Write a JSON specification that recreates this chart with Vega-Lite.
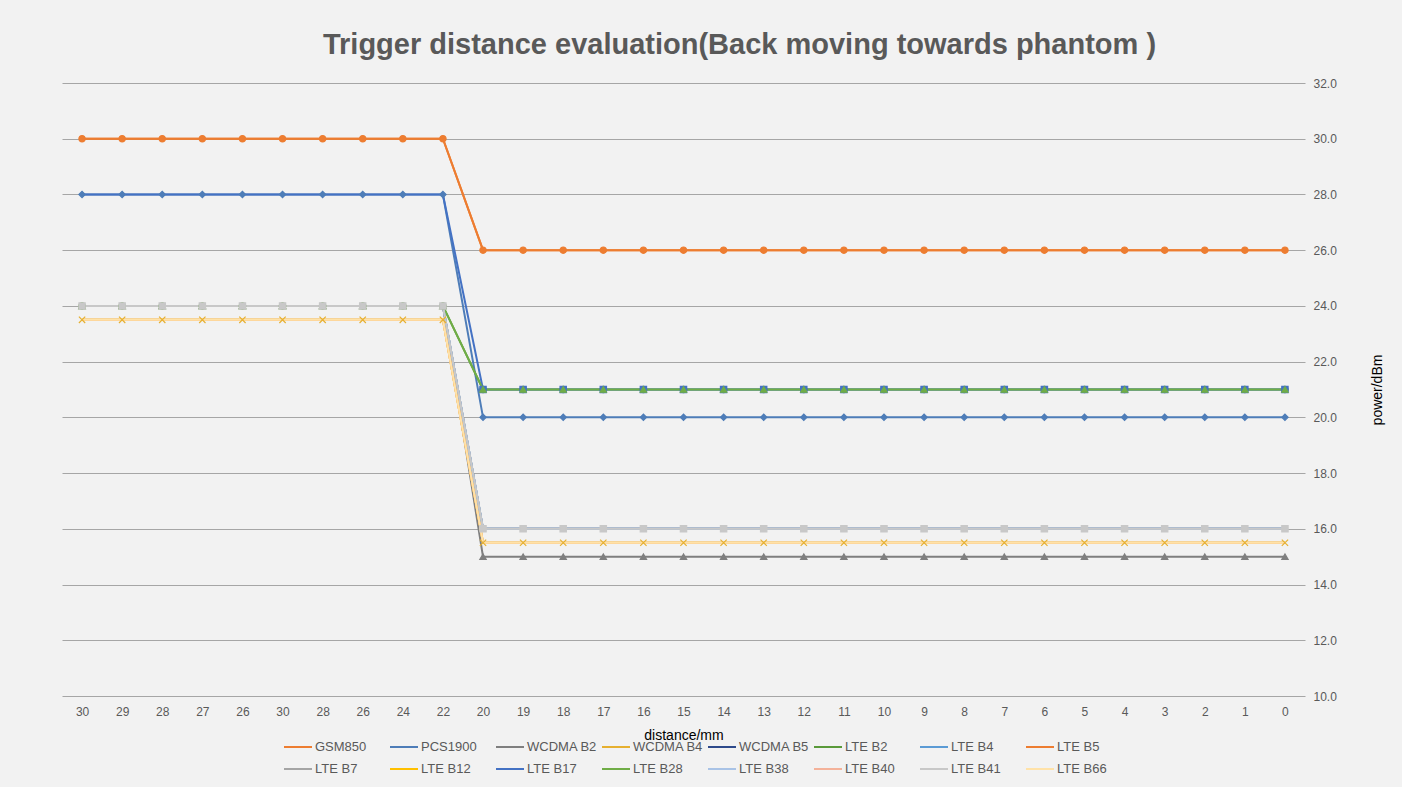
{
  "$schema": "https://vega.github.io/schema/vega-lite/v6.json",
  "width": 1243,
  "height": 613,
  "autosize": "none",
  "padding": {"left": 62, "top": 83, "right": 97, "bottom": 91},
  "background": "#f2f2f2",
  "config": {"view": {"stroke": null}, "font": "Liberation Sans"},
  "title": {
    "text": "Trigger distance evaluation(Back moving towards phantom )",
    "font": "Liberation Sans",
    "fontSize": 29,
    "fontWeight": "bold",
    "color": "#595959",
    "anchor": "middle",
    "frame": "group",
    "dx": 56,
    "offset": 17
  },
  "data": {
    "values": [
      {"s":"GSM850","x":1,"y":30},{"s":"GSM850","x":2,"y":30},{"s":"GSM850","x":3,"y":30},{"s":"GSM850","x":4,"y":30},{"s":"GSM850","x":5,"y":30},{"s":"GSM850","x":6,"y":30},{"s":"GSM850","x":7,"y":30},{"s":"GSM850","x":8,"y":30},{"s":"GSM850","x":9,"y":30},{"s":"GSM850","x":10,"y":30},
      {"s":"GSM850","x":11,"y":26},{"s":"GSM850","x":12,"y":26},{"s":"GSM850","x":13,"y":26},{"s":"GSM850","x":14,"y":26},{"s":"GSM850","x":15,"y":26},{"s":"GSM850","x":16,"y":26},{"s":"GSM850","x":17,"y":26},{"s":"GSM850","x":18,"y":26},{"s":"GSM850","x":19,"y":26},{"s":"GSM850","x":20,"y":26},{"s":"GSM850","x":21,"y":26},{"s":"GSM850","x":22,"y":26},{"s":"GSM850","x":23,"y":26},{"s":"GSM850","x":24,"y":26},{"s":"GSM850","x":25,"y":26},{"s":"GSM850","x":26,"y":26},{"s":"GSM850","x":27,"y":26},{"s":"GSM850","x":28,"y":26},{"s":"GSM850","x":29,"y":26},{"s":"GSM850","x":30,"y":26},{"s":"GSM850","x":31,"y":26},

      {"s":"PCS1900","x":1,"y":28},{"s":"PCS1900","x":2,"y":28},{"s":"PCS1900","x":3,"y":28},{"s":"PCS1900","x":4,"y":28},{"s":"PCS1900","x":5,"y":28},{"s":"PCS1900","x":6,"y":28},{"s":"PCS1900","x":7,"y":28},{"s":"PCS1900","x":8,"y":28},{"s":"PCS1900","x":9,"y":28},{"s":"PCS1900","x":10,"y":28},
      {"s":"PCS1900","x":11,"y":20},{"s":"PCS1900","x":12,"y":20},{"s":"PCS1900","x":13,"y":20},{"s":"PCS1900","x":14,"y":20},{"s":"PCS1900","x":15,"y":20},{"s":"PCS1900","x":16,"y":20},{"s":"PCS1900","x":17,"y":20},{"s":"PCS1900","x":18,"y":20},{"s":"PCS1900","x":19,"y":20},{"s":"PCS1900","x":20,"y":20},{"s":"PCS1900","x":21,"y":20},{"s":"PCS1900","x":22,"y":20},{"s":"PCS1900","x":23,"y":20},{"s":"PCS1900","x":24,"y":20},{"s":"PCS1900","x":25,"y":20},{"s":"PCS1900","x":26,"y":20},{"s":"PCS1900","x":27,"y":20},{"s":"PCS1900","x":28,"y":20},{"s":"PCS1900","x":29,"y":20},{"s":"PCS1900","x":30,"y":20},{"s":"PCS1900","x":31,"y":20},

      {"s":"WCDMA B2","x":1,"y":24},{"s":"WCDMA B2","x":2,"y":24},{"s":"WCDMA B2","x":3,"y":24},{"s":"WCDMA B2","x":4,"y":24},{"s":"WCDMA B2","x":5,"y":24},{"s":"WCDMA B2","x":6,"y":24},{"s":"WCDMA B2","x":7,"y":24},{"s":"WCDMA B2","x":8,"y":24},{"s":"WCDMA B2","x":9,"y":24},{"s":"WCDMA B2","x":10,"y":24},
      {"s":"WCDMA B2","x":11,"y":15},{"s":"WCDMA B2","x":12,"y":15},{"s":"WCDMA B2","x":13,"y":15},{"s":"WCDMA B2","x":14,"y":15},{"s":"WCDMA B2","x":15,"y":15},{"s":"WCDMA B2","x":16,"y":15},{"s":"WCDMA B2","x":17,"y":15},{"s":"WCDMA B2","x":18,"y":15},{"s":"WCDMA B2","x":19,"y":15},{"s":"WCDMA B2","x":20,"y":15},{"s":"WCDMA B2","x":21,"y":15},{"s":"WCDMA B2","x":22,"y":15},{"s":"WCDMA B2","x":23,"y":15},{"s":"WCDMA B2","x":24,"y":15},{"s":"WCDMA B2","x":25,"y":15},{"s":"WCDMA B2","x":26,"y":15},{"s":"WCDMA B2","x":27,"y":15},{"s":"WCDMA B2","x":28,"y":15},{"s":"WCDMA B2","x":29,"y":15},{"s":"WCDMA B2","x":30,"y":15},{"s":"WCDMA B2","x":31,"y":15},

      {"s":"WCDMA B4","x":1,"y":23.5},{"s":"WCDMA B4","x":2,"y":23.5},{"s":"WCDMA B4","x":3,"y":23.5},{"s":"WCDMA B4","x":4,"y":23.5},{"s":"WCDMA B4","x":5,"y":23.5},{"s":"WCDMA B4","x":6,"y":23.5},{"s":"WCDMA B4","x":7,"y":23.5},{"s":"WCDMA B4","x":8,"y":23.5},{"s":"WCDMA B4","x":9,"y":23.5},{"s":"WCDMA B4","x":10,"y":23.5},
      {"s":"WCDMA B4","x":11,"y":15.5},{"s":"WCDMA B4","x":12,"y":15.5},{"s":"WCDMA B4","x":13,"y":15.5},{"s":"WCDMA B4","x":14,"y":15.5},{"s":"WCDMA B4","x":15,"y":15.5},{"s":"WCDMA B4","x":16,"y":15.5},{"s":"WCDMA B4","x":17,"y":15.5},{"s":"WCDMA B4","x":18,"y":15.5},{"s":"WCDMA B4","x":19,"y":15.5},{"s":"WCDMA B4","x":20,"y":15.5},{"s":"WCDMA B4","x":21,"y":15.5},{"s":"WCDMA B4","x":22,"y":15.5},{"s":"WCDMA B4","x":23,"y":15.5},{"s":"WCDMA B4","x":24,"y":15.5},{"s":"WCDMA B4","x":25,"y":15.5},{"s":"WCDMA B4","x":26,"y":15.5},{"s":"WCDMA B4","x":27,"y":15.5},{"s":"WCDMA B4","x":28,"y":15.5},{"s":"WCDMA B4","x":29,"y":15.5},{"s":"WCDMA B4","x":30,"y":15.5},{"s":"WCDMA B4","x":31,"y":15.5},

      {"s":"WCDMA B5","x":1,"y":24},{"s":"WCDMA B5","x":2,"y":24},{"s":"WCDMA B5","x":3,"y":24},{"s":"WCDMA B5","x":4,"y":24},{"s":"WCDMA B5","x":5,"y":24},{"s":"WCDMA B5","x":6,"y":24},{"s":"WCDMA B5","x":7,"y":24},{"s":"WCDMA B5","x":8,"y":24},{"s":"WCDMA B5","x":9,"y":24},{"s":"WCDMA B5","x":10,"y":24},
      {"s":"WCDMA B5","x":11,"y":16},{"s":"WCDMA B5","x":12,"y":16},{"s":"WCDMA B5","x":13,"y":16},{"s":"WCDMA B5","x":14,"y":16},{"s":"WCDMA B5","x":15,"y":16},{"s":"WCDMA B5","x":16,"y":16},{"s":"WCDMA B5","x":17,"y":16},{"s":"WCDMA B5","x":18,"y":16},{"s":"WCDMA B5","x":19,"y":16},{"s":"WCDMA B5","x":20,"y":16},{"s":"WCDMA B5","x":21,"y":16},{"s":"WCDMA B5","x":22,"y":16},{"s":"WCDMA B5","x":23,"y":16},{"s":"WCDMA B5","x":24,"y":16},{"s":"WCDMA B5","x":25,"y":16},{"s":"WCDMA B5","x":26,"y":16},{"s":"WCDMA B5","x":27,"y":16},{"s":"WCDMA B5","x":28,"y":16},{"s":"WCDMA B5","x":29,"y":16},{"s":"WCDMA B5","x":30,"y":16},{"s":"WCDMA B5","x":31,"y":16},

      {"s":"LTE B2","x":1,"y":24},{"s":"LTE B2","x":2,"y":24},{"s":"LTE B2","x":3,"y":24},{"s":"LTE B2","x":4,"y":24},{"s":"LTE B2","x":5,"y":24},{"s":"LTE B2","x":6,"y":24},{"s":"LTE B2","x":7,"y":24},{"s":"LTE B2","x":8,"y":24},{"s":"LTE B2","x":9,"y":24},{"s":"LTE B2","x":10,"y":24},
      {"s":"LTE B2","x":11,"y":21},{"s":"LTE B2","x":12,"y":21},{"s":"LTE B2","x":13,"y":21},{"s":"LTE B2","x":14,"y":21},{"s":"LTE B2","x":15,"y":21},{"s":"LTE B2","x":16,"y":21},{"s":"LTE B2","x":17,"y":21},{"s":"LTE B2","x":18,"y":21},{"s":"LTE B2","x":19,"y":21},{"s":"LTE B2","x":20,"y":21},{"s":"LTE B2","x":21,"y":21},{"s":"LTE B2","x":22,"y":21},{"s":"LTE B2","x":23,"y":21},{"s":"LTE B2","x":24,"y":21},{"s":"LTE B2","x":25,"y":21},{"s":"LTE B2","x":26,"y":21},{"s":"LTE B2","x":27,"y":21},{"s":"LTE B2","x":28,"y":21},{"s":"LTE B2","x":29,"y":21},{"s":"LTE B2","x":30,"y":21},{"s":"LTE B2","x":31,"y":21},

      {"s":"LTE B4","x":1,"y":24},{"s":"LTE B4","x":2,"y":24},{"s":"LTE B4","x":3,"y":24},{"s":"LTE B4","x":4,"y":24},{"s":"LTE B4","x":5,"y":24},{"s":"LTE B4","x":6,"y":24},{"s":"LTE B4","x":7,"y":24},{"s":"LTE B4","x":8,"y":24},{"s":"LTE B4","x":9,"y":24},{"s":"LTE B4","x":10,"y":24},
      {"s":"LTE B4","x":11,"y":16},{"s":"LTE B4","x":12,"y":16},{"s":"LTE B4","x":13,"y":16},{"s":"LTE B4","x":14,"y":16},{"s":"LTE B4","x":15,"y":16},{"s":"LTE B4","x":16,"y":16},{"s":"LTE B4","x":17,"y":16},{"s":"LTE B4","x":18,"y":16},{"s":"LTE B4","x":19,"y":16},{"s":"LTE B4","x":20,"y":16},{"s":"LTE B4","x":21,"y":16},{"s":"LTE B4","x":22,"y":16},{"s":"LTE B4","x":23,"y":16},{"s":"LTE B4","x":24,"y":16},{"s":"LTE B4","x":25,"y":16},{"s":"LTE B4","x":26,"y":16},{"s":"LTE B4","x":27,"y":16},{"s":"LTE B4","x":28,"y":16},{"s":"LTE B4","x":29,"y":16},{"s":"LTE B4","x":30,"y":16},{"s":"LTE B4","x":31,"y":16},

      {"s":"LTE B5","x":1,"y":30},{"s":"LTE B5","x":2,"y":30},{"s":"LTE B5","x":3,"y":30},{"s":"LTE B5","x":4,"y":30},{"s":"LTE B5","x":5,"y":30},{"s":"LTE B5","x":6,"y":30},{"s":"LTE B5","x":7,"y":30},{"s":"LTE B5","x":8,"y":30},{"s":"LTE B5","x":9,"y":30},{"s":"LTE B5","x":10,"y":30},
      {"s":"LTE B5","x":11,"y":26},{"s":"LTE B5","x":12,"y":26},{"s":"LTE B5","x":13,"y":26},{"s":"LTE B5","x":14,"y":26},{"s":"LTE B5","x":15,"y":26},{"s":"LTE B5","x":16,"y":26},{"s":"LTE B5","x":17,"y":26},{"s":"LTE B5","x":18,"y":26},{"s":"LTE B5","x":19,"y":26},{"s":"LTE B5","x":20,"y":26},{"s":"LTE B5","x":21,"y":26},{"s":"LTE B5","x":22,"y":26},{"s":"LTE B5","x":23,"y":26},{"s":"LTE B5","x":24,"y":26},{"s":"LTE B5","x":25,"y":26},{"s":"LTE B5","x":26,"y":26},{"s":"LTE B5","x":27,"y":26},{"s":"LTE B5","x":28,"y":26},{"s":"LTE B5","x":29,"y":26},{"s":"LTE B5","x":30,"y":26},{"s":"LTE B5","x":31,"y":26},

      {"s":"LTE B7","x":1,"y":24},{"s":"LTE B7","x":2,"y":24},{"s":"LTE B7","x":3,"y":24},{"s":"LTE B7","x":4,"y":24},{"s":"LTE B7","x":5,"y":24},{"s":"LTE B7","x":6,"y":24},{"s":"LTE B7","x":7,"y":24},{"s":"LTE B7","x":8,"y":24},{"s":"LTE B7","x":9,"y":24},{"s":"LTE B7","x":10,"y":24},
      {"s":"LTE B7","x":11,"y":16},{"s":"LTE B7","x":12,"y":16},{"s":"LTE B7","x":13,"y":16},{"s":"LTE B7","x":14,"y":16},{"s":"LTE B7","x":15,"y":16},{"s":"LTE B7","x":16,"y":16},{"s":"LTE B7","x":17,"y":16},{"s":"LTE B7","x":18,"y":16},{"s":"LTE B7","x":19,"y":16},{"s":"LTE B7","x":20,"y":16},{"s":"LTE B7","x":21,"y":16},{"s":"LTE B7","x":22,"y":16},{"s":"LTE B7","x":23,"y":16},{"s":"LTE B7","x":24,"y":16},{"s":"LTE B7","x":25,"y":16},{"s":"LTE B7","x":26,"y":16},{"s":"LTE B7","x":27,"y":16},{"s":"LTE B7","x":28,"y":16},{"s":"LTE B7","x":29,"y":16},{"s":"LTE B7","x":30,"y":16},{"s":"LTE B7","x":31,"y":16},

      {"s":"LTE B12","x":1,"y":23.5},{"s":"LTE B12","x":2,"y":23.5},{"s":"LTE B12","x":3,"y":23.5},{"s":"LTE B12","x":4,"y":23.5},{"s":"LTE B12","x":5,"y":23.5},{"s":"LTE B12","x":6,"y":23.5},{"s":"LTE B12","x":7,"y":23.5},{"s":"LTE B12","x":8,"y":23.5},{"s":"LTE B12","x":9,"y":23.5},{"s":"LTE B12","x":10,"y":23.5},
      {"s":"LTE B12","x":11,"y":15.5},{"s":"LTE B12","x":12,"y":15.5},{"s":"LTE B12","x":13,"y":15.5},{"s":"LTE B12","x":14,"y":15.5},{"s":"LTE B12","x":15,"y":15.5},{"s":"LTE B12","x":16,"y":15.5},{"s":"LTE B12","x":17,"y":15.5},{"s":"LTE B12","x":18,"y":15.5},{"s":"LTE B12","x":19,"y":15.5},{"s":"LTE B12","x":20,"y":15.5},{"s":"LTE B12","x":21,"y":15.5},{"s":"LTE B12","x":22,"y":15.5},{"s":"LTE B12","x":23,"y":15.5},{"s":"LTE B12","x":24,"y":15.5},{"s":"LTE B12","x":25,"y":15.5},{"s":"LTE B12","x":26,"y":15.5},{"s":"LTE B12","x":27,"y":15.5},{"s":"LTE B12","x":28,"y":15.5},{"s":"LTE B12","x":29,"y":15.5},{"s":"LTE B12","x":30,"y":15.5},{"s":"LTE B12","x":31,"y":15.5},

      {"s":"LTE B17","x":1,"y":28},{"s":"LTE B17","x":2,"y":28},{"s":"LTE B17","x":3,"y":28},{"s":"LTE B17","x":4,"y":28},{"s":"LTE B17","x":5,"y":28},{"s":"LTE B17","x":6,"y":28},{"s":"LTE B17","x":7,"y":28},{"s":"LTE B17","x":8,"y":28},{"s":"LTE B17","x":9,"y":28},{"s":"LTE B17","x":10,"y":28},
      {"s":"LTE B17","x":11,"y":21},{"s":"LTE B17","x":12,"y":21},{"s":"LTE B17","x":13,"y":21},{"s":"LTE B17","x":14,"y":21},{"s":"LTE B17","x":15,"y":21},{"s":"LTE B17","x":16,"y":21},{"s":"LTE B17","x":17,"y":21},{"s":"LTE B17","x":18,"y":21},{"s":"LTE B17","x":19,"y":21},{"s":"LTE B17","x":20,"y":21},{"s":"LTE B17","x":21,"y":21},{"s":"LTE B17","x":22,"y":21},{"s":"LTE B17","x":23,"y":21},{"s":"LTE B17","x":24,"y":21},{"s":"LTE B17","x":25,"y":21},{"s":"LTE B17","x":26,"y":21},{"s":"LTE B17","x":27,"y":21},{"s":"LTE B17","x":28,"y":21},{"s":"LTE B17","x":29,"y":21},{"s":"LTE B17","x":30,"y":21},{"s":"LTE B17","x":31,"y":21},

      {"s":"LTE B28","x":1,"y":24},{"s":"LTE B28","x":2,"y":24},{"s":"LTE B28","x":3,"y":24},{"s":"LTE B28","x":4,"y":24},{"s":"LTE B28","x":5,"y":24},{"s":"LTE B28","x":6,"y":24},{"s":"LTE B28","x":7,"y":24},{"s":"LTE B28","x":8,"y":24},{"s":"LTE B28","x":9,"y":24},{"s":"LTE B28","x":10,"y":24},
      {"s":"LTE B28","x":11,"y":21},{"s":"LTE B28","x":12,"y":21},{"s":"LTE B28","x":13,"y":21},{"s":"LTE B28","x":14,"y":21},{"s":"LTE B28","x":15,"y":21},{"s":"LTE B28","x":16,"y":21},{"s":"LTE B28","x":17,"y":21},{"s":"LTE B28","x":18,"y":21},{"s":"LTE B28","x":19,"y":21},{"s":"LTE B28","x":20,"y":21},{"s":"LTE B28","x":21,"y":21},{"s":"LTE B28","x":22,"y":21},{"s":"LTE B28","x":23,"y":21},{"s":"LTE B28","x":24,"y":21},{"s":"LTE B28","x":25,"y":21},{"s":"LTE B28","x":26,"y":21},{"s":"LTE B28","x":27,"y":21},{"s":"LTE B28","x":28,"y":21},{"s":"LTE B28","x":29,"y":21},{"s":"LTE B28","x":30,"y":21},{"s":"LTE B28","x":31,"y":21},

      {"s":"LTE B38","x":1,"y":24},{"s":"LTE B38","x":2,"y":24},{"s":"LTE B38","x":3,"y":24},{"s":"LTE B38","x":4,"y":24},{"s":"LTE B38","x":5,"y":24},{"s":"LTE B38","x":6,"y":24},{"s":"LTE B38","x":7,"y":24},{"s":"LTE B38","x":8,"y":24},{"s":"LTE B38","x":9,"y":24},{"s":"LTE B38","x":10,"y":24},
      {"s":"LTE B38","x":11,"y":16},{"s":"LTE B38","x":12,"y":16},{"s":"LTE B38","x":13,"y":16},{"s":"LTE B38","x":14,"y":16},{"s":"LTE B38","x":15,"y":16},{"s":"LTE B38","x":16,"y":16},{"s":"LTE B38","x":17,"y":16},{"s":"LTE B38","x":18,"y":16},{"s":"LTE B38","x":19,"y":16},{"s":"LTE B38","x":20,"y":16},{"s":"LTE B38","x":21,"y":16},{"s":"LTE B38","x":22,"y":16},{"s":"LTE B38","x":23,"y":16},{"s":"LTE B38","x":24,"y":16},{"s":"LTE B38","x":25,"y":16},{"s":"LTE B38","x":26,"y":16},{"s":"LTE B38","x":27,"y":16},{"s":"LTE B38","x":28,"y":16},{"s":"LTE B38","x":29,"y":16},{"s":"LTE B38","x":30,"y":16},{"s":"LTE B38","x":31,"y":16},

      {"s":"LTE B40","x":1,"y":23.5},{"s":"LTE B40","x":2,"y":23.5},{"s":"LTE B40","x":3,"y":23.5},{"s":"LTE B40","x":4,"y":23.5},{"s":"LTE B40","x":5,"y":23.5},{"s":"LTE B40","x":6,"y":23.5},{"s":"LTE B40","x":7,"y":23.5},{"s":"LTE B40","x":8,"y":23.5},{"s":"LTE B40","x":9,"y":23.5},{"s":"LTE B40","x":10,"y":23.5},
      {"s":"LTE B40","x":11,"y":15.5},{"s":"LTE B40","x":12,"y":15.5},{"s":"LTE B40","x":13,"y":15.5},{"s":"LTE B40","x":14,"y":15.5},{"s":"LTE B40","x":15,"y":15.5},{"s":"LTE B40","x":16,"y":15.5},{"s":"LTE B40","x":17,"y":15.5},{"s":"LTE B40","x":18,"y":15.5},{"s":"LTE B40","x":19,"y":15.5},{"s":"LTE B40","x":20,"y":15.5},{"s":"LTE B40","x":21,"y":15.5},{"s":"LTE B40","x":22,"y":15.5},{"s":"LTE B40","x":23,"y":15.5},{"s":"LTE B40","x":24,"y":15.5},{"s":"LTE B40","x":25,"y":15.5},{"s":"LTE B40","x":26,"y":15.5},{"s":"LTE B40","x":27,"y":15.5},{"s":"LTE B40","x":28,"y":15.5},{"s":"LTE B40","x":29,"y":15.5},{"s":"LTE B40","x":30,"y":15.5},{"s":"LTE B40","x":31,"y":15.5},

      {"s":"LTE B41","x":1,"y":24},{"s":"LTE B41","x":2,"y":24},{"s":"LTE B41","x":3,"y":24},{"s":"LTE B41","x":4,"y":24},{"s":"LTE B41","x":5,"y":24},{"s":"LTE B41","x":6,"y":24},{"s":"LTE B41","x":7,"y":24},{"s":"LTE B41","x":8,"y":24},{"s":"LTE B41","x":9,"y":24},{"s":"LTE B41","x":10,"y":24},
      {"s":"LTE B41","x":11,"y":16},{"s":"LTE B41","x":12,"y":16},{"s":"LTE B41","x":13,"y":16},{"s":"LTE B41","x":14,"y":16},{"s":"LTE B41","x":15,"y":16},{"s":"LTE B41","x":16,"y":16},{"s":"LTE B41","x":17,"y":16},{"s":"LTE B41","x":18,"y":16},{"s":"LTE B41","x":19,"y":16},{"s":"LTE B41","x":20,"y":16},{"s":"LTE B41","x":21,"y":16},{"s":"LTE B41","x":22,"y":16},{"s":"LTE B41","x":23,"y":16},{"s":"LTE B41","x":24,"y":16},{"s":"LTE B41","x":25,"y":16},{"s":"LTE B41","x":26,"y":16},{"s":"LTE B41","x":27,"y":16},{"s":"LTE B41","x":28,"y":16},{"s":"LTE B41","x":29,"y":16},{"s":"LTE B41","x":30,"y":16},{"s":"LTE B41","x":31,"y":16},

      {"s":"LTE B66","x":1,"y":23.5},{"s":"LTE B66","x":2,"y":23.5},{"s":"LTE B66","x":3,"y":23.5},{"s":"LTE B66","x":4,"y":23.5},{"s":"LTE B66","x":5,"y":23.5},{"s":"LTE B66","x":6,"y":23.5},{"s":"LTE B66","x":7,"y":23.5},{"s":"LTE B66","x":8,"y":23.5},{"s":"LTE B66","x":9,"y":23.5},{"s":"LTE B66","x":10,"y":23.5},
      {"s":"LTE B66","x":11,"y":15.5},{"s":"LTE B66","x":12,"y":15.5},{"s":"LTE B66","x":13,"y":15.5},{"s":"LTE B66","x":14,"y":15.5},{"s":"LTE B66","x":15,"y":15.5},{"s":"LTE B66","x":16,"y":15.5},{"s":"LTE B66","x":17,"y":15.5},{"s":"LTE B66","x":18,"y":15.5},{"s":"LTE B66","x":19,"y":15.5},{"s":"LTE B66","x":20,"y":15.5},{"s":"LTE B66","x":21,"y":15.5},{"s":"LTE B66","x":22,"y":15.5},{"s":"LTE B66","x":23,"y":15.5},{"s":"LTE B66","x":24,"y":15.5},{"s":"LTE B66","x":25,"y":15.5},{"s":"LTE B66","x":26,"y":15.5},{"s":"LTE B66","x":27,"y":15.5},{"s":"LTE B66","x":28,"y":15.5},{"s":"LTE B66","x":29,"y":15.5},{"s":"LTE B66","x":30,"y":15.5},{"s":"LTE B66","x":31,"y":15.5}
    ]
  },
  "encoding": {
    "x": {
      "field": "x",
      "type": "ordinal",
      "scale": {"type": "point", "padding": 0.5, "domain": [1,2,3,4,5,6,7,8,9,10,11,12,13,14,15,16,17,18,19,20,21,22,23,24,25,26,27,28,29,30,31]},
      "axis": {
        "title": "distance/mm",
        "titleFont": "Liberation Sans",
        "titleFontSize": 14,
        "titleFontWeight": "normal",
        "titleColor": "#000000",
        "titlePadding": 11,
        "labelExpr": "['30','29','28','27','26','30','28','26','24','22','20','19','18','17','16','15','14','13','12','11','10','9','8','7','6','5','4','3','2','1','0'][datum.value-1]",
        "labelAngle": 0,
        "labelFont": "Liberation Sans",
        "labelFontSize": 12,
        "labelColor": "#595959",
        "labelPadding": 10,
        "domain": false,
        "ticks": false,
        "grid": false
      }
    },
    "y": {
      "field": "y",
      "type": "quantitative",
      "scale": {"domain": [10, 32], "nice": false, "zero": false},
      "axis": {
        "orient": "right",
        "title": "power/dBm",
        "titleFont": "Liberation Sans",
        "titleFontSize": 14,
        "titleFontWeight": "normal",
        "titleColor": "#000000",
        "titleAngle": 270,
        "titlePadding": 48,
        "values": [10,12,14,16,18,20,22,24,26,28,30,32],
        "format": ".1f",
        "labelFont": "Liberation Sans",
        "labelFontSize": 12,
        "labelColor": "#595959",
        "labelPadding": 8,
        "domain": false,
        "ticks": false,
        "grid": true,
        "gridColor": "#a6a6a6",
        "gridWidth": 1
      }
    }
  },
  "layer": [
    {
      "mark": {"type": "line", "strokeWidth": 2},
      "encoding": {
        "color": {
          "field": "s",
          "type": "nominal",
          "scale": {
            "domain": ["GSM850","PCS1900","WCDMA B2","WCDMA B4","WCDMA B5","LTE B2","LTE B4","LTE B5","LTE B7","LTE B12","LTE B17","LTE B28","LTE B38","LTE B40","LTE B41","LTE B66"],
            "range": ["#ED7D31","#4E7DB8","#7F7F7F","#E6B030","#2E4A8B","#5A9A3A","#5B9BD5","#ED7D31","#A5A5A5","#FFC000","#4472C4","#70AD47","#A9C3E6","#F4B29A","#C8C8C8","#FFE2A8"]
          },
          "legend": {
            "title": null,
            "orient": "none",
            "legendX": 221,
            "legendY": 649,
            "direction": "horizontal",
            "columns": 8,
            "gridAlign": "all",
            "columnPadding": 0,
            "rowPadding": -2,
            "symbolType": "stroke",
            "symbolSize": 784,
            "symbolStrokeWidth": 2,
            "labelOffset": 2,
            "labelFont": "Liberation Sans",
            "labelFontSize": 13,
            "labelColor": "#595959"
          }
        },
        "strokeWidth": {
          "condition": {"test": "datum.s === 'GSM850' || datum.s === 'LTE B5'", "value": 3},
          "value": 2
        }
      }
    },
    {
      "transform": [
        {"filter": {"field": "s", "oneOf": ["GSM850","PCS1900","WCDMA B2","WCDMA B4","LTE B2","LTE B17","LTE B28","LTE B41"]}},
        {"filter": "datum.s !== 'LTE B17' || datum.y < 25"}
      ],
      "mark": {"type": "point", "filled": true, "size": 40, "opacity": 1, "strokeWidth": 1.2},
      "encoding": {
        "color": {
          "field": "s",
          "type": "nominal",
          "legend": null
        },
        "stroke": {
          "field": "s",
          "type": "nominal",
          "legend": null,
          "scale": {
            "domain": ["GSM850","PCS1900","WCDMA B2","WCDMA B4","WCDMA B5","LTE B2","LTE B4","LTE B5","LTE B7","LTE B12","LTE B17","LTE B28","LTE B38","LTE B40","LTE B41","LTE B66"],
            "range": ["#ED7D31","#4E7DB8","#7F7F7F","#E6B030","#2E4A8B","#5A9A3A","#5B9BD5","#ED7D31","#A5A5A5","#FFC000","#4472C4","#70AD47","#A9C3E6","#F4B29A","#C8C8C8","#FFE2A8"]
          }
        },
        "shape": {
          "field": "s",
          "type": "nominal",
          "legend": null,
          "scale": {
            "domain": ["GSM850","PCS1900","WCDMA B2","WCDMA B4","LTE B2","LTE B17","LTE B28","LTE B41"],
            "range": ["circle","diamond","triangle-up","M-1,-1L1,1M-1,1L1,-1","circle","square","triangle-up","square"]
          }
        }
      }
    }
  ]
}
